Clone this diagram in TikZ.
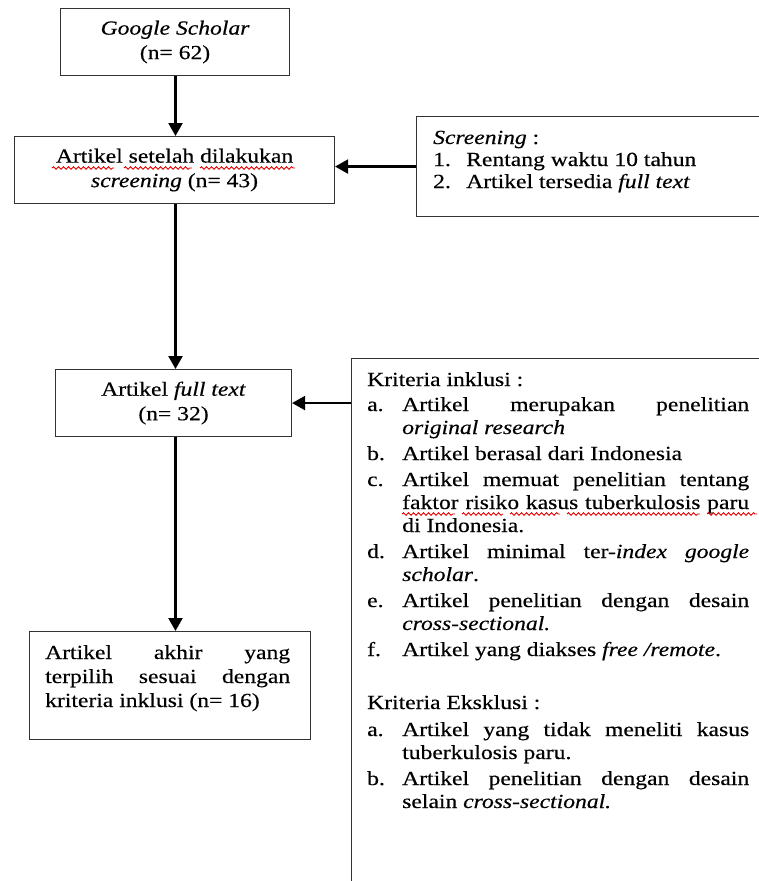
\documentclass[tikz,border=0pt]{standalone}
\usepackage{fontspec}
\setmainfont{Liberation Serif}[FakeBold=0.35]
\usepackage{graphicx}
\usetikzlibrary{arrows.meta,decorations.pathmorphing}
\newcommand{\hs}[1]{\scalebox{1.18}[1]{#1}}
\newcommand{\lab}[1]{\makebox[29.7pt][l]{#1}}
\newcommand{\ind}{\hspace*{29.7pt}}
\newcommand{\J}[1]{\makebox[294pt][s]{#1}}
\newcommand{\scrlab}[1]{\makebox[28pt][l]{#1}}
\begin{document}
\begin{tikzpicture}[x=1pt,y=1pt,
  box/.style={draw=black!80, line width=1.1pt, rectangle, inner sep=0pt, anchor=north west,
              align=center, font=\fontsize{20}{24.5}\selectfont},
  txt/.style={inner sep=0pt, anchor=base west, font=\fontsize{20}{23}\selectfont},
  arr/.style={line width=2.2pt, -{Triangle[length=13pt,width=14pt]}},
  wavy/.style={red!90!black, line width=0.9pt, decorate,
               decoration={snake, amplitude=1.3pt, segment length=5pt}}
]
\useasboundingbox (0,0) rectangle (759,-881);
\clip (0,0) rectangle (759,-881);

% main column boxes
\node[box, minimum width=229pt, minimum height=67pt] (b1) at (60,-8)
  {\hs{\textit{Google Scholar}}\\\hs{(n= 62)}};
\node[box, minimum width=320pt, minimum height=67pt] (b2) at (14,-136)
  {\hs{Artikel setelah dilakukan}\\\hs{\textit{screening} (n= 43)}};
\node[box, minimum width=236pt, minimum height=67pt] (b3) at (55,-369)
  {\hs{Artikel \textit{full text}}\\\hs{(n= 32)}};
\node[box, minimum width=281pt, minimum height=108pt] (b4) at (29,-631) {};
\node[txt] (t4) at (45,-659) {\hs{\begin{minipage}[t]{207.6pt}\fontsize{20}{24}\selectfont
  \makebox[\linewidth][s]{Artikel akhir yang}\\
  \makebox[\linewidth][s]{terpilih sesuai dengan}\\
  kriteria inklusi (n= 16)\end{minipage}}};

% side boxes (cut off by the page edge)
\node[box, minimum width=420pt, minimum height=100pt] (scr) at (416,-116) {};
\node[txt] (tscr) at (433,-144) {\hs{\begin{minipage}[t]{300pt}\fontsize{20}{22}\selectfont
  \textit{Screening} :\\
  \scrlab{1.}Rentang waktu 10 tahun\\
  \scrlab{2.}Artikel tersedia \textit{full text}\end{minipage}}};

\node[box, minimum width=450pt, minimum height=600pt] (krit) at (351,-358) {};
\node[txt] (tkrit) at (367,-386) {\hs{\begin{minipage}[t]{330pt}\fontsize{20}{23}\selectfont
  Kriteria inklusi :\\[2pt]
  \lab{a.}\J{Artikel merupakan penelitian}\\
  \ind\textit{original research}\\[3pt]
  \lab{b.}Artikel berasal dari Indonesia\\[3pt]
  \lab{c.}\J{Artikel memuat penelitian tentang}\\
  \ind\J{faktor risiko kasus tuberkulosis paru}\\
  \ind di Indonesia.\\[3pt]
  \lab{d.}\J{Artikel minimal ter-\textit{index google}}\\
  \ind\textit{scholar}.\\[3pt]
  \lab{e.}\J{Artikel penelitian dengan desain}\\
  \ind\textit{cross-sectional.}\\[3pt]
  \lab{f.}Artikel yang diakses \textit{free /remote}.\\[30pt]
  Kriteria Eksklusi :\\[4pt]
  \lab{a.}\J{Artikel yang tidak meneliti kasus}\\
  \ind tuberkulosis paru.\\[3pt]
  \lab{b.}\J{Artikel penelitian dengan desain}\\
  \ind selain \textit{cross-sectional.}\end{minipage}}};

% connectors
\coordinate (col) at (175.5,0);
\draw[arr] (b1.south -| col) -- (b2.north -| col);
\draw[arr] (b2.south -| col) -- (b3.north -| col);
\draw[arr] (b3.south -| col) -- (b4.north -| col);
\draw[arr] (scr.west) -- (scr.west -| b2.east);
\draw[arr] (b3.east -| krit.west) -- (b3.east);

% spell-check squiggles
\draw[wavy] (52,-168) -- (114,-168);
\draw[wavy] (124,-168) -- (192,-168);
\draw[wavy] (200,-168) -- (295,-168);
\draw[wavy] (402,-514) -- (455,-514);
\draw[wavy] (462,-514) -- (503,-514);
\draw[wavy] (510,-514) -- (560,-514);
\draw[wavy] (567,-514) -- (700,-514);
\draw[wavy] (707,-514) -- (757,-514);
\end{tikzpicture}
\end{document}
